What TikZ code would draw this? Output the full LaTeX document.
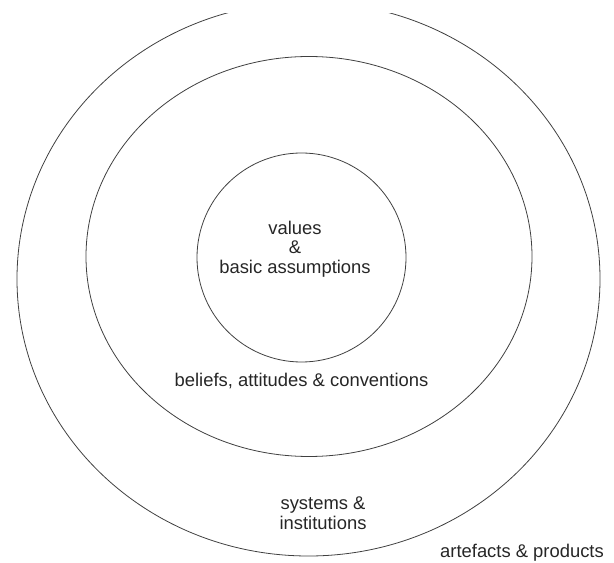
\documentclass[tikz,border=0pt]{standalone}
\usepackage{fontspec}
\setmainfont{Liberation Sans}
\tikzset{ring/.style={line width=0.8pt,solid,black!75}}
\tikzset{layer/.style={font=\fontsize{18.4}{19.5}\selectfont,align=center,text=black!85,inner sep=0pt}}

\begin{document}
\begin{tikzpicture}[x=1pt,y=1pt]
  \useasboundingbox (0,0) rectangle (614,563);
  % draw the rings (outer one cut at the top)
  \begin{scope}
    \clip (0,0) rectangle (614,549);
    \draw[ring] (308.5,284) ellipse [x radius=291.5, y radius=277];
  \end{scope}
  \draw[ring] (309,306.5) ellipse [x radius=223, y radius=200];
  \draw[ring] (301.5,305.5) circle [radius=104.5];
  % label the layers
  \node[layer] (core) at (295,314) {values\\\&\\basic assumptions};
  \node[layer] (beliefs) at (301.5,182) {beliefs, attitudes \& conventions};
  \node[layer] (systems) at (323,50) {systems \&\\institutions};
  \node[layer] (artefacts) at (522,10) {artefacts \& products};
\end{tikzpicture}
\end{document}
